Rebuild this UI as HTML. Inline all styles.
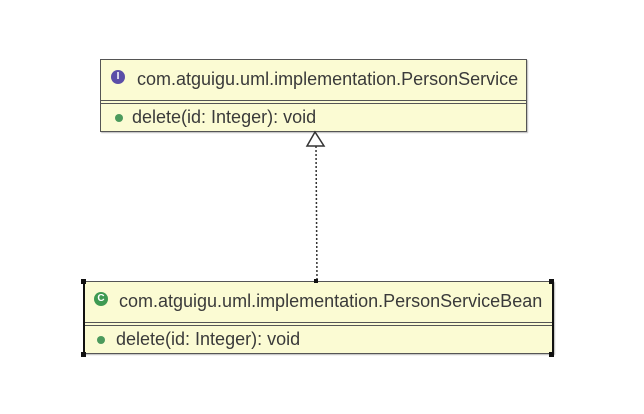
<!DOCTYPE html>
<html><head><style>
body{margin:0;background:#fff;width:644px;height:414px;overflow:hidden;position:relative;font-family:"Liberation Sans","DejaVu Sans",sans-serif;}
.box{position:absolute;background:#fbfbd3;border:1.5px solid #555;box-shadow:1px 1px 1px #bbb;}
.t{position:absolute;font-size:18px;line-height:20px;color:#3a3a3a;white-space:nowrap;}
.sep{position:absolute;left:0;right:0;height:2px;border-top:1.5px solid #555;border-bottom:1.5px solid #555;}
.ic{position:absolute;border-radius:50%;color:#fff;font-size:10px;font-weight:bold;text-align:center;}
.h{position:absolute;width:5px;height:5px;background:#111;}
</style></head><body>
<div class="box" style="left:100px;top:59px;width:425px;height:71px;">
  <div class="ic" style="left:10px;top:10px;width:14px;height:14px;line-height:14px;background:#5b4ea8;">I</div>
  <div class="t" style="left:36px;top:9px;">com.atguigu.uml.implementation.PersonService</div>
  <div class="sep" style="top:40px;"></div>
  <div class="ic" style="left:14px;top:54px;width:8px;height:8px;background:#4c9a5c;"></div>
  <div class="t" style="left:31px;top:47px;">delete(id: Integer): void</div>
</div>
<svg style="position:absolute;left:0;top:0" width="644" height="414">
  <line x1="316" y1="146" x2="317" y2="281" stroke="#333" stroke-width="1.5" stroke-dasharray="2,2"/>
  <polygon points="315,132 307,146 324,146" fill="#fff" stroke="#333" stroke-width="1.5"/>
</svg>
<div class="box" style="left:83px;top:281px;width:467px;height:71px;border-left:2px solid #111;border-right:2px solid #111;">
  <div class="ic" style="left:9px;top:10px;width:14px;height:14px;line-height:14px;background:#3e9a52;">C</div>
  <div class="t" style="left:34px;top:9px;">com.atguigu.uml.implementation.PersonServiceBean</div>
  <div class="sep" style="top:40px;"></div>
  <div class="ic" style="left:12px;top:54px;width:8px;height:8px;background:#4c9a5c;"></div>
  <div class="t" style="left:31px;top:47px;">delete(id: Integer): void</div>
</div>
<div class="h" style="left:81px;top:279px"></div>
<div class="h" style="left:549px;top:279px"></div>
<div class="h" style="left:81px;top:352px"></div>
<div class="h" style="left:549px;top:352px"></div>
<div class="h" style="left:314px;top:279px;width:4px;height:4px"></div>
</body></html>
